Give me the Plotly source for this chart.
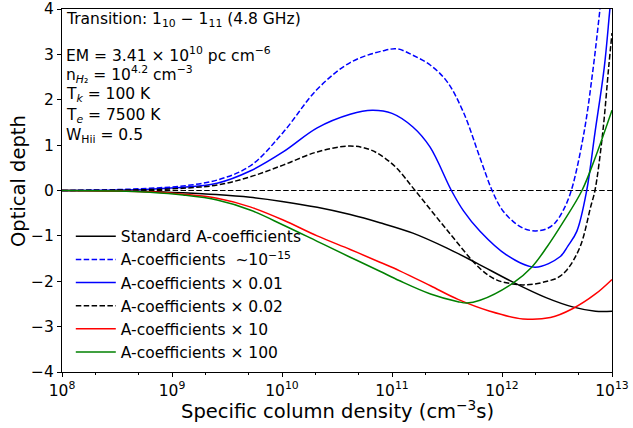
import plotly.graph_objects as go

# log10 of specific column density (cm^-3 s) and optical depth for each model
std_logn = [8.0, 8.5, 8.8, 9.1, 9.4, 9.71, 10.0, 10.32, 10.62, 10.89, 11.19, 11.5, 11.77, 12.1, 12.4, 12.65, 12.85, 13.0]
std_tau = [0.0, -0.01, -0.02, -0.05, -0.09, -0.15, -0.24, -0.37, -0.53, -0.71, -0.94, -1.27, -1.6, -2.02, -2.36, -2.57, -2.66, -2.66]

tiny_logn = [8.0, 8.5, 8.8, 9.1, 9.41, 9.71, 10.01, 10.32, 10.62, 10.92, 11.05, 11.19, 11.35, 11.5, 11.65, 11.8, 11.91, 12.0, 12.1, 12.2, 12.3, 12.4, 12.48, 12.56, 12.63, 12.745, 12.83, 12.89, 12.95]
tiny_tau = [0.0, 0.02, 0.05, 0.1, 0.23, 0.54, 1.28, 2.23, 2.82, 3.08, 3.12, 2.98, 2.76, 2.4, 1.72, 0.72, 0.0, -0.42, -0.68, -0.84, -0.89, -0.85, -0.72, -0.42, 0.0, 1.27, 2.72, 3.98, 5.3]

x001_logn = [8.0, 8.5, 8.8, 9.1, 9.41, 9.71, 10.01, 10.32, 10.62, 10.82, 11.0, 11.19, 11.345, 11.54, 11.65, 11.8, 12.04, 12.3, 12.527, 12.6, 12.68, 12.77, 12.845, 12.93, 12.98, 13.02]
x001_tau = [0.0, 0.01, 0.03, 0.07, 0.16, 0.43, 0.85, 1.38, 1.68, 1.77, 1.7, 1.4, 0.96, 0.0, -0.45, -0.9, -1.42, -1.69, -1.46, -1.22, -0.9, 0.0, 1.27, 2.72, 3.98, 5.0]

x002_logn = [8.0, 8.5, 8.8, 9.1, 9.41, 9.71, 10.01, 10.32, 10.62, 10.8, 10.92, 11.04, 11.21, 11.5, 11.8, 11.95, 12.1, 12.19, 12.3, 12.41, 12.5, 12.59, 12.71, 12.806, 12.845, 12.915, 12.97, 13.0]
x002_tau = [0.0, 0.01, 0.02, 0.05, 0.12, 0.3, 0.56, 0.85, 0.98, 0.9, 0.74, 0.5, 0.0, -0.87, -1.72, -1.97, -2.06, -2.08, -2.06, -2.0, -1.93, -1.75, -1.24, -0.36, 0.0, 1.26, 2.72, 3.47]

x10_logn = [8.0, 8.5, 8.8, 9.1, 9.41, 9.71, 10.01, 10.32, 10.62, 10.89, 11.07, 11.35, 11.6, 11.89, 12.19, 12.44, 12.645, 12.85, 13.0]
x10_tau = [0.0, -0.01, -0.03, -0.08, -0.17, -0.36, -0.65, -1.0, -1.3, -1.58, -1.77, -2.1, -2.4, -2.66, -2.83, -2.8, -2.6, -2.28, -1.96]

x100_logn = [8.0, 8.5, 8.8, 9.1, 9.41, 9.71, 10.01, 10.32, 10.62, 10.89, 11.07, 11.35, 11.6, 11.68, 11.8, 12.1, 12.27, 12.41, 12.55, 12.727, 12.85, 13.0]
x100_tau = [0.0, -0.01, -0.04, -0.1, -0.21, -0.43, -0.76, -1.12, -1.47, -1.78, -1.99, -2.28, -2.45, -2.48, -2.42, -2.04, -1.69, -1.24, -0.72, 0.0, 0.74, 1.77]

series = [
    ("Standard A-coefficients", std_logn, std_tau, "black", "solid"),
    ("A-coefficients  ~10<sup>−15</sup>", tiny_logn, tiny_tau, "#0000ff", "dash"),
    ("A-coefficients × 0.01", x001_logn, x001_tau, "#0000ff", "solid"),
    ("A-coefficients × 0.02", x002_logn, x002_tau, "black", "dash"),
    ("A-coefficients × 10", x10_logn, x10_tau, "#ff0000", "solid"),
    ("A-coefficients × 100", x100_logn, x100_tau, "#008000", "solid"),
]

decades = [8, 9, 10, 11, 12, 13]
tick_text = [f"10<sup>{d}</sup>" for d in decades]
y_ticks = [-4, -3, -2, -1, 0, 1, 2, 3, 4]
y_tick_text = [str(v).replace("-", "−") for v in y_ticks]

DASH = "5.5px,2.4px"
font = "DejaVu Sans"

fig = go.Figure()

# zero reference line
fig.add_trace(go.Scatter(x=[1e8, 1e13], y=[0, 0], mode="lines",
                         line=dict(color="black", width=1.1, dash=DASH),
                         showlegend=False, hoverinfo="skip"))

for name, logn, tau, color, dash in series:
    fig.add_trace(go.Scatter(
        x=[10 ** v for v in logn], y=tau, mode="lines", name=name,
        line=dict(color=color, width=1.5, dash=DASH if dash == "dash" else "solid",
                  shape="spline", smoothing=1.0),
    ))

# parameter block in the upper-left corner
info_lines = [
    ("Transition: 1<sub>10</sub> − 1<sub>11</sub> (4.8 GHz)", 0.9697),
    ("EM = 3.41 × 10<sup>10</sup> pc cm<sup>−6</sup>", 0.8733),
    ("n<sub><i>H</i>₂</sub> = 10<sup>4.2</sup> cm<sup>−3</sup>", 0.8182),
    ("T<sub><i>k</i></sub> = 100 K", 0.7631),
    ("T<sub><i>e</i></sub> = 7500 K", 0.7052),
    ("W<sub>Hii</sub> = 0.5", 0.6488),
]
for txt, yy in info_lines:
    fig.add_annotation(text=txt, xref="paper", yref="paper", x=0.0036, y=yy,
                       xanchor="left", yanchor="middle", showarrow=False,
                       font=dict(family=font, size=15.5, color="black"))

# axis titles
fig.add_annotation(text="Specific column density (cm<sup>−3</sup>s)", xref="paper", yref="paper",
                   x=0.5, y=-0.104, xanchor="center", yanchor="middle", showarrow=False,
                   font=dict(family=font, size=19.5, color="black"))
fig.add_annotation(text="Optical depth", xref="paper", yref="paper",
                   x=-0.079, y=0.525, xanchor="center", yanchor="middle", showarrow=False,
                   textangle=-90, font=dict(family=font, size=19.5, color="black"))

axis_common = dict(showline=True, linecolor="black", linewidth=1, mirror=True,
                   showgrid=False, zeroline=False, ticks="outside", ticklen=4,
                   tickcolor="black", automargin=False,
                   tickfont=dict(family=font, size=15.5, color="black"))

fig.update_xaxes(type="log", range=[8, 13], tickvals=[10 ** d for d in decades],
                 ticktext=tick_text,
                 minor=dict(ticks="outside", ticklen=2, tickcolor="black", showgrid=False),
                 **axis_common)
fig.update_yaxes(range=[-4, 4], tickvals=y_ticks, ticktext=y_tick_text, **axis_common)

fig.update_layout(
    width=633, height=428,
    margin=dict(l=62, r=21, t=9, b=56),
    plot_bgcolor="white", paper_bgcolor="white",
    font=dict(family=font, color="black"),
    showlegend=True,
    legend=dict(x=0.016, y=0.4196, xanchor="left", yanchor="top",
                bgcolor="rgba(0,0,0,0)", font=dict(family=font, size=15.5, color="black"),
                tracegroupgap=0, itemwidth=40),
)

fig.write_html("out.html")
